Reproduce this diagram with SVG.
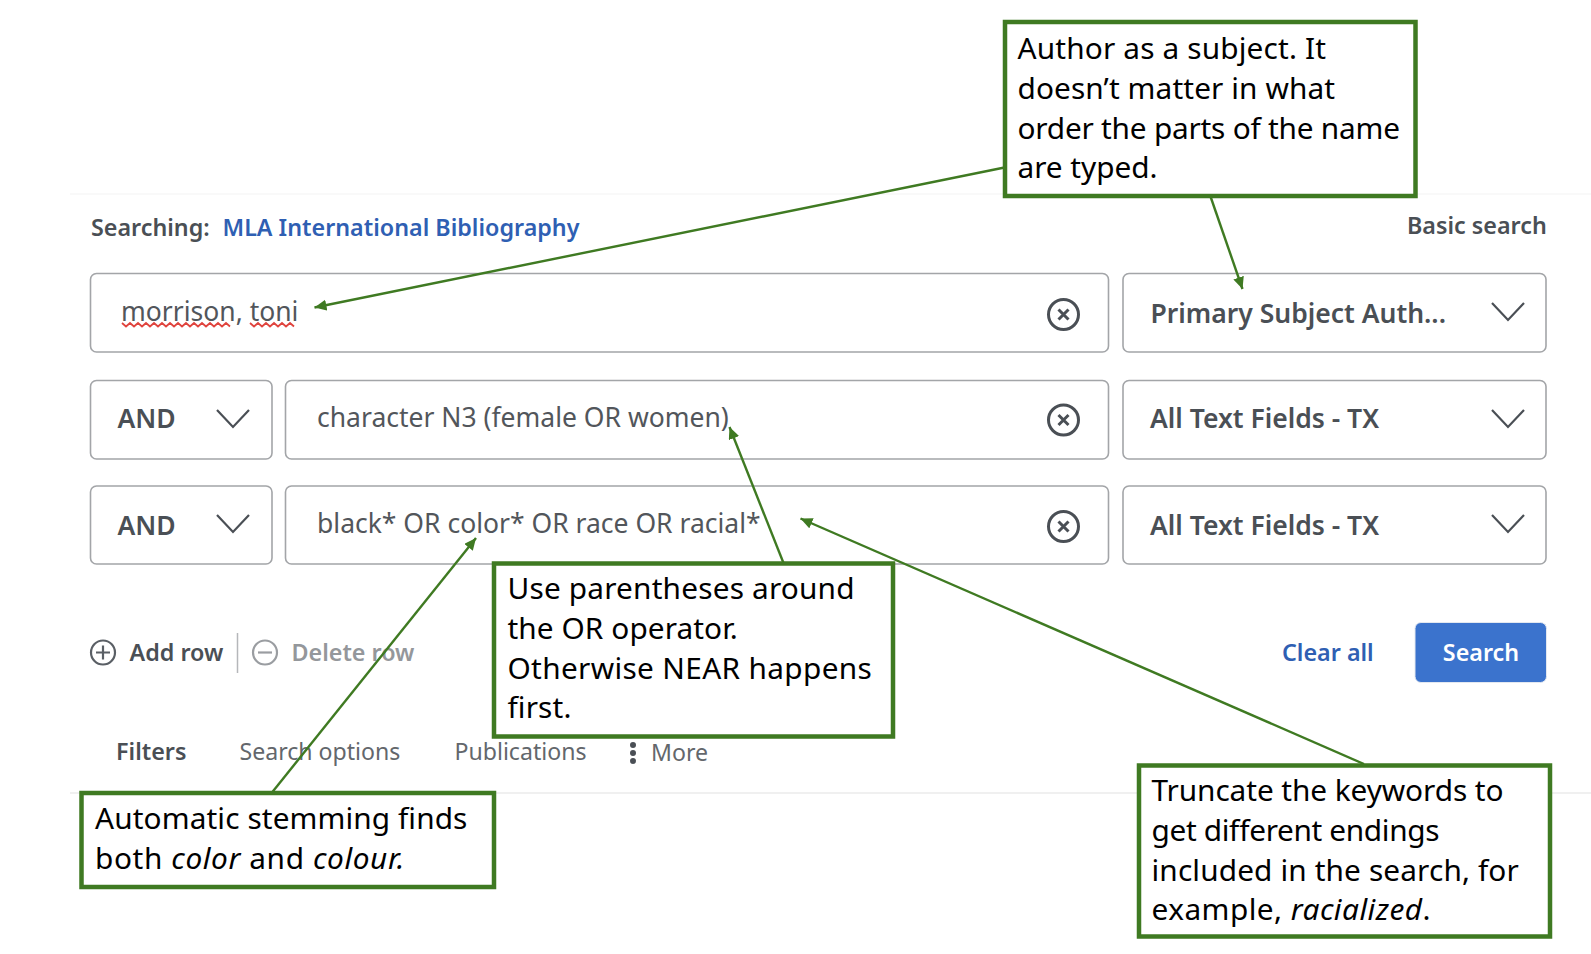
<svg xmlns="http://www.w3.org/2000/svg" width="1591" height="954" viewBox="0 0 1591 954">
<style>
.ui{font-family:"Noto Sans","Open Sans",sans-serif;fill:#4a4f55}
.sb{font-weight:600;font-size:23.300px}
.sl{font-weight:600;font-size:26.500px}
.in{font-size:26.500px;fill:#52565b}
.tab{font-size:23.100px;fill:#63676c}
.f{fill:#fff;stroke:#a3a5a8;stroke-width:1.6}
.chev{fill:none;stroke:#4a4f55;stroke-width:2.2}
.ic{fill:none;stroke:#4a4f55;stroke-width:3}
.ic2{fill:none;stroke:#5a5f65;stroke-width:2.2}
.box{fill:#fff;stroke:#3f7a22;stroke-width:4.500}
.t{font-family:"Noto Sans","Open Sans",sans-serif;font-size:29.800px;fill:#000}
.c{fill:none;stroke:#3f7a22;stroke-width:2.400;marker-end:url(#a)}
</style>
<defs><marker id="a" markerUnits="userSpaceOnUse" markerWidth="14" markerHeight="12" refX="12" refY="5.500" orient="auto"><path d="M0 0L12 5.500L0 11Z" fill="#3f7a22"/></marker></defs>
<rect width="1591" height="954" fill="#fff"/>
<g id="page">
<path d="M70 194H1591" stroke="#f7f7f7" stroke-width="1.500"/>
<path d="M70 793H1591" stroke="#ebebeb" stroke-width="1.500"/>
<text class="ui sb" x="91" y="235.500">Searching:</text>
<text class="ui sb" x="222.500" y="235.500" style="fill:#2f5fb3">MLA International Bibliography</text>
<text class="ui sb" x="1407" y="233.500">Basic search</text>
</g>
<g id="row1">
<rect class="f" x="90.500" y="273.500" width="1018" height="78.500" rx="6"/>
<text class="ui in" x="121" y="320.500">morrison, toni</text>
<path d="M122 323l4 3.500 4-3.500 4 3.500 4-3.500 4 3.500 4-3.500 4 3.500 4-3.500 4 3.500 4-3.500 4 3.500 4-3.500 4 3.500 4-3.500 4 3.500 4-3.500 4 3.500 4-3.500 4 3.500 4-3.500 4 3.500 4-3.500 4 3.500 4-3.500 4 3.500 4-3.500 4 3.500M250 323l4 3.500 4-3.500 4 3.500 4-3.500 4 3.500 4-3.500 4 3.500 4-3.500 4 3.500 4-3.500 4 3.500" fill="none" stroke="#e0443e" stroke-width="1.800"/>
<circle class="ic" cx="1063.500" cy="314.500" r="15"/>
<path class="ic" d="M1058.500 309.500l10 10m0-10l-10 10"/>
<rect class="f" x="1123" y="273.500" width="423" height="78.500" rx="6"/>
<text class="ui sl" x="1150.500" y="322.500">Primary Subject Auth...</text>
<path class="chev" d="M1492 303l16 17 16-17"/>
</g>
<g id="row2">
<rect class="f" x="90.500" y="380.500" width="181.500" height="78.500" rx="6"/>
<text class="ui sl" x="117.500" y="428">AND</text>
<path class="chev" d="M217 410l16 17 16-17"/>
<rect class="f" x="285.500" y="380.500" width="823" height="78.500" rx="6"/>
<text class="ui in" x="317" y="427">character N3 (female OR women)</text>
<circle class="ic" cx="1063.500" cy="420" r="15"/>
<path class="ic" d="M1058.500 415l10 10m0-10l-10 10"/>
<rect class="f" x="1123" y="380.500" width="423" height="78.500" rx="6"/>
<text class="ui sl" x="1150" y="428">All Text Fields - TX</text>
<path class="chev" d="M1492 410l16 17 16-17"/>
</g>
<g id="row3">
<rect class="f" x="90.500" y="486" width="181.500" height="78" rx="6"/>
<text class="ui sl" x="117.500" y="535">AND</text>
<path class="chev" d="M217 515l16 17 16-17"/>
<rect class="f" x="285.500" y="486" width="823" height="78" rx="6"/>
<text class="ui in" x="317" y="533">black* OR color* OR race OR racial*</text>
<circle class="ic" cx="1063.500" cy="526.500" r="15"/>
<path class="ic" d="M1058.500 521.500l10 10m0-10l-10 10"/>
<rect class="f" x="1123" y="486" width="423" height="78" rx="6"/>
<text class="ui sl" x="1150" y="535">All Text Fields - TX</text>
<path class="chev" d="M1492 515l16 17 16-17"/>
</g>
<g id="actions">
<circle class="ic2" cx="103" cy="652.500" r="12"/>
<path class="ic2" d="M96 652.500h14m-7-7v14"/>
<text class="ui sb" x="129.500" y="661">Add row</text>
<path d="M237.500 633v40" stroke="#b5b7ba" stroke-width="1.500"/>
<circle cx="265" cy="652.500" r="12" fill="none" stroke="#9a9da1" stroke-width="2.200"/>
<path d="M258 652.500h14" stroke="#9a9da1" stroke-width="2.200"/>
<text class="ui sb" x="291.500" y="661" style="fill:#94979b">Delete row</text>
<text class="ui sb" x="1282" y="661" style="fill:#2f5fb3">Clear all</text>
<rect x="1415" y="622.500" width="131.500" height="60" rx="6" fill="#3b73cd" stroke="#e3e8f0" stroke-width="1"/>
<text class="ui sb" x="1481" y="661" text-anchor="middle" style="fill:#fff">Search</text>
</g>
<g id="tabs">
<text class="ui sb" x="116" y="760">Filters</text>
<text class="ui tab" x="239.500" y="760">Search options</text>
<text class="ui tab" x="454.500" y="760">Publications</text>
<path d="M633 745v.1M633 753v.1M633 761v.1" stroke="#4a4f55" stroke-width="6" stroke-linecap="round"/>
<text class="ui tab" x="651" y="761">More</text>
</g>
<g id="connectors">
<path class="c" d="M1004.500 167.500L314.500 307.500"/>
<path class="c" d="M1210.500 196.500L1242.500 289"/>
<path class="c" d="M783.500 563L729.500 427"/>
<path class="c" d="M1364 764L800.500 518.500"/>
<path class="c" d="M272 792.500L476 538"/>
</g>
<g id="note-author">
<rect class="box" x="1005" y="22" width="410.500" height="174"/>
<text class="t" x="1017.500" y="59" textLength="308.500">Author as a subject. It</text>
<text class="t" x="1017.500" y="99" textLength="317.600">doesn’t matter in what</text>
<text class="t" x="1017.500" y="138.500" textLength="382.500">order the parts of the name</text>
<text class="t" x="1017.500" y="178" textLength="140">are typed.</text>
</g>
<g id="note-parens">
<rect class="box" x="494" y="563.500" width="399" height="173"/>
<text class="t" x="507.500" y="598.500" textLength="347">Use parentheses around</text>
<text class="t" x="507.500" y="639" textLength="230.300">the OR operator.</text>
<text class="t" x="507.500" y="678.500" textLength="364.300">Otherwise NEAR happens</text>
<text class="t" x="507.500" y="718" textLength="64">first.</text>
</g>
<g id="note-stemming">
<rect class="box" x="81.500" y="793" width="412.500" height="94"/>
<text class="t" x="95" y="829" textLength="372.400">Automatic stemming finds</text>
<text class="t" x="95" y="868.500" textLength="309.500">both <tspan font-style="italic">color</tspan> and <tspan font-style="italic">colour.</tspan></text>
</g>
<g id="note-truncate">
<rect class="box" x="1139" y="765.500" width="411" height="171"/>
<text class="t" x="1151.500" y="801" textLength="352">Truncate the keywords to</text>
<text class="t" x="1151.500" y="840.500" textLength="288">get different endings</text>
<text class="t" x="1151.500" y="881" textLength="367.300">included in the search, for</text>
<text class="t" x="1151.500" y="919.500" textLength="279">example, <tspan font-style="italic">racialized</tspan>.</text>
</g>
</svg>
